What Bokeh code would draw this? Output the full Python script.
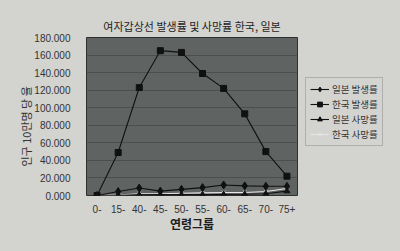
import numpy as np
from bokeh.plotting import figure
from bokeh.layouts import row
from bokeh.models import (ColumnDataSource, FactorRange, Range1d, NumeralTickFormatter,
                          FixedTicker, Legend, LegendItem)
from bokeh.embed import file_html
from bokeh.resources import INLINE

# Age groups and rates per 100,000 women (thyroid cancer), Korea vs Japan
age_groups = ["0-", "15-", "40-", "45-", "50-", "55-", "60-", "65-", "70-", "75+"]
japan_incidence = [0, 4.5, 8.5, 5, 7, 9, 12, 11, 10.5, 10.5]
korea_incidence = [0, 49, 123, 165, 163, 139, 122, 93, 50, 22]
japan_mortality = [0, 0.3, 0.8, 1, 1, 1, 1.2, 1.5, 2, 5]
korea_mortality = [0, 0.5, 2, 2, 2.5, 3, 3.5, 3.5, 4.5, 8]
y_ticks = [0, 20, 40, 60, 80, 100, 120, 140, 160, 180]

series_labels = ["일본 발생률", "한국 발생률", "일본 사망률", "한국 사망률"]

KR = "Noto Sans CJK KR"
NUM = "Liberation Sans"
PAGE = "#d3d4d0"
INK = "#111111"
LIGHT = "#e6e6e6"

src = ColumnDataSource(dict(
    age=age_groups,
    jp_inc=japan_incidence,
    kr_inc=korea_incidence,
    jp_mort=japan_mortality,
    kr_mort=korea_mortality,
))

p = figure(width=303, height=251, output_backend="svg", toolbar_location=None,
           x_range=FactorRange(*age_groups), y_range=Range1d(0, 180),
           min_border_left=86, min_border_right=6, min_border_top=37,
           min_border_bottom=56)

p.background_fill_color = "#5f6462"
p.border_fill_color = PAGE
p.outline_line_color = "#2e302f"
p.outline_line_width = 1

p.title.text = "여자갑상선 발생률 및 사망률 한국, 일본"
p.title.text_font = KR
p.title.text_font_size = "11px"
p.title.text_font_style = "normal"
p.title.text_color = "#1e1e1e"
p.title.align = "center"
p.title.standoff = 8

# axes
p.yaxis.ticker = FixedTicker(ticks=y_ticks)
p.yaxis.formatter = NumeralTickFormatter(format="0.000")
for ax in (p.xaxis[0], p.yaxis[0]):
    ax.axis_line_color = None
    ax.major_tick_line_color = None
    ax.minor_tick_line_color = None
    ax.major_label_text_font = NUM
    ax.major_label_text_font_size = "10px"
    ax.major_label_text_color = "#333333"
p.yaxis.major_label_standoff = 10
p.xaxis.major_label_standoff = 3

p.xaxis.axis_label = "연령그룹"
p.xaxis.axis_label_text_font = KR
p.xaxis.axis_label_text_font_size = "12px"
p.xaxis.axis_label_text_font_style = "bold"
p.xaxis.axis_label_text_color = "#1e1e1e"
p.xaxis.axis_label_standoff = -1

# trailing no-break spaces nudge the rotated title down the axis
p.yaxis.axis_label = "인구 10만명 당 율" + "\u00a0" * 8
p.yaxis.axis_label_text_font = KR
p.yaxis.axis_label_text_font_size = "11px"
p.yaxis.axis_label_text_font_style = "normal"
p.yaxis.axis_label_text_color = "#333333"
p.yaxis.axis_label_standoff = -3

p.xgrid.grid_line_color = None
p.ygrid.grid_line_color = "#4b4f4d"
p.ygrid.grid_line_width = 1

# series
STYLES = [
    dict(col="jp_inc", color=INK, marker="diamond", size=8),
    dict(col="kr_inc", color=INK, marker="square", size=6),
    dict(col="jp_mort", color=INK, marker="triangle", size=6),
    dict(col="kr_mort", color=LIGHT, marker="x", size=5),
]
for s in reversed(STYLES):
    p.line("age", s["col"], source=src, line_color=s["color"], line_width=1.1)
    p.scatter("age", s["col"], source=src, marker=s["marker"], size=s["size"],
              fill_color=s["color"], line_color=s["color"])

# legend panel beside the chart: key-only renderers (no plottable points)
# carry the series styles into the legend
lg = figure(width=97, height=251, output_backend="svg", toolbar_location=None,
            x_axis_type=None, y_axis_type=None,
            x_range=Range1d(0, 1), y_range=Range1d(0, 1),
            min_border_left=0, min_border_right=0, min_border_top=0, min_border_bottom=0)
lg.background_fill_color = PAGE
lg.background_fill_alpha = 0
lg.border_fill_color = PAGE
lg.outline_line_color = None
lg.xgrid.grid_line_color = None
lg.ygrid.grid_line_color = None

key_src = ColumnDataSource(dict(x=[np.nan], y=[np.nan]))
items = []
for label, s in zip(series_labels, STYLES):
    rl = lg.line("x", "y", source=key_src, line_color=s["color"], line_width=1.1)
    rm = lg.scatter("x", "y", source=key_src, marker=s["marker"], size=s["size"],
                    fill_color=s["color"], line_color=s["color"])
    items.append(LegendItem(label=label, renderers=[rl, rm]))

# offset from the legend frame's bottom-left corner
legend = Legend(items=items, location=(2, 49))
legend.margin = 0
legend.padding = 4
legend.spacing = 1
legend.glyph_width = 19
legend.glyph_height = 12
legend.label_height = 12
legend.label_standoff = 3
legend.label_text_font = KR
legend.label_text_font_size = "9.5px"
legend.label_text_color = "#333333"
legend.background_fill_color = PAGE
legend.background_fill_alpha = 1
legend.border_line_color = "#8a8a8a"
legend.border_line_width = 1
lg.add_layout(legend)

layout = row(p, lg, spacing=0, styles={"background-color": PAGE})
open("out.html", "w").write(file_html(layout, INLINE))
